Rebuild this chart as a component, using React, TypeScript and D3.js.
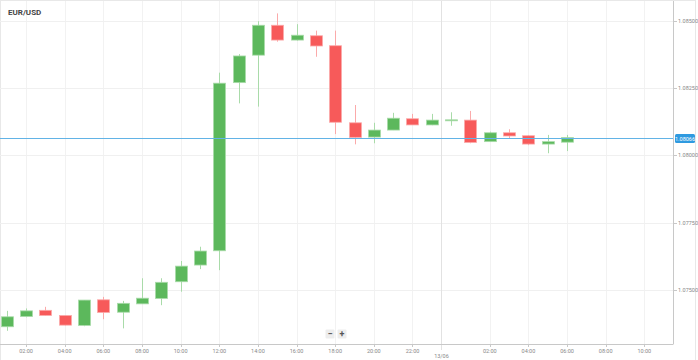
import React, { useRef, useEffect } from "react";
import * as d3 from "d3";

const chart_width = 698;
const chart_height = 360;
const plot = { left: 0, right: 673, top: 1, bottom: 344 };

// hourly candles, 12/06 01:00 -> 13/06 06:00
const hours = [
  "2023-06-12T01:00Z", "2023-06-12T02:00Z", "2023-06-12T03:00Z", "2023-06-12T04:00Z",
  "2023-06-12T05:00Z", "2023-06-12T06:00Z", "2023-06-12T07:00Z", "2023-06-12T08:00Z",
  "2023-06-12T09:00Z", "2023-06-12T10:00Z", "2023-06-12T11:00Z", "2023-06-12T12:00Z",
  "2023-06-12T13:00Z", "2023-06-12T14:00Z", "2023-06-12T15:00Z", "2023-06-12T16:00Z",
  "2023-06-12T17:00Z", "2023-06-12T18:00Z", "2023-06-12T19:00Z", "2023-06-12T20:00Z",
  "2023-06-12T21:00Z", "2023-06-12T22:00Z", "2023-06-12T23:00Z", "2023-06-13T00:00Z",
  "2023-06-13T01:00Z", "2023-06-13T02:00Z", "2023-06-13T03:00Z", "2023-06-13T04:00Z",
  "2023-06-13T05:00Z", "2023-06-13T06:00Z",
];
const opens = [
  1.07364, 1.07402, 1.07425, 1.07406, 1.07369, 1.07464, 1.07418, 1.07449, 1.07469, 1.07531,
  1.07593, 1.07646, 1.0827, 1.08372, 1.08483, 1.08428, 1.08444, 1.08407, 1.08121, 1.08068,
  1.08094, 1.08136, 1.08113, 1.08131, 1.08131, 1.08051, 1.08084, 1.08073, 1.08042, 1.08049,
];
const highs = [
  1.07423, 1.07432, 1.07438, 1.07406, 1.07463, 1.07475, 1.0746, 1.07544, 1.07544, 1.07608,
  1.07661, 1.08307, 1.08376, 1.08498, 1.08527, 1.08487, 1.08463, 1.08463, 1.08187, 1.08121,
  1.08158, 1.08154, 1.08154, 1.0816, 1.08165, 1.08088, 1.08097, 1.08075, 1.08076, 1.08076,
];
const lows = [
  1.07349, 1.07399, 1.07405, 1.07369, 1.07366, 1.07392, 1.07358, 1.07449, 1.07444, 1.07494,
  1.07578, 1.07574, 1.08193, 1.08181, 1.08422, 1.08426, 1.08366, 1.08079, 1.08041, 1.08045,
  1.08094, 1.08113, 1.08112, 1.0811, 1.08045, 1.08051, 1.08062, 1.08038, 1.08008, 1.08016,
];
const closes = [
  1.07401, 1.07423, 1.07406, 1.0737, 1.07463, 1.07417, 1.07451, 1.0747, 1.07529, 1.07589,
  1.07645, 1.08268, 1.08369, 1.08483, 1.08428, 1.08446, 1.08406, 1.08123, 1.08067, 1.08094,
  1.08138, 1.08113, 1.08131, 1.08132, 1.08048, 1.08084, 1.08072, 1.08042, 1.08051, 1.08066,
];

const priceTicks = [1.075, 1.0775, 1.08, 1.0825, 1.085];
const lastPrice = 1.08066;
const xDomain = ["2023-06-12T00:39Z", "2023-06-13T11:29Z"];
const yDomain = [1.073, 1.08573];
const dayBreak = "2023-06-12T23:29Z";
const dayLabel = "13/06";
const title = "EUR/USD";

const up = "#5cb85c";
const upLight = "#a9dba9";
const down = "#f75a5a";
const downLight = "#fbaaaa";
const font = "Roboto, Arial, sans-serif";

const App: React.FC = () => {
  const ref = useRef<SVGSVGElement>(null);

  useEffect(() => {
    if (!ref.current) return;
    const svg = d3.select(ref.current);
    svg.selectAll("*").remove();

    const x = d3
      .scaleUtc()
      .domain(xDomain.map((d) => new Date(d)))
      .range([plot.left, plot.right]);
    const y = d3.scaleLinear().domain(yDomain).range([plot.bottom, plot.top]);

    const data = hours.map((h, i) => ({
      t: new Date(h),
      o: opens[i],
      h: highs[i],
      l: lows[i],
      c: closes[i],
    }));

    // frame
    svg
      .append("rect")
      .attr("x", 0.5)
      .attr("y", 0.5)
      .attr("width", 695)
      .attr("height", chart_height)
      .attr("fill", "#fff")
      .attr("stroke", "#e8e8e8");

    // grid
    const timeTicks = x
      .ticks(d3.utcHour.every(2) as any)
      .filter((d) => d.getUTCHours() !== 0);
    svg
      .append("g")
      .selectAll("line")
      .data(timeTicks)
      .enter()
      .append("line")
      .attr("x1", (d) => Math.round(x(d)) + 0.5)
      .attr("x2", (d) => Math.round(x(d)) + 0.5)
      .attr("y1", plot.top)
      .attr("y2", plot.bottom)
      .attr("stroke", "#f2f2f2");
    svg
      .append("g")
      .selectAll("line")
      .data(priceTicks)
      .enter()
      .append("line")
      .attr("x1", plot.left)
      .attr("x2", plot.right)
      .attr("y1", (d) => Math.round(y(d)) + 0.5)
      .attr("y2", (d) => Math.round(y(d)) + 0.5)
      .attr("stroke", "#f0f0f0");

    const dbx = Math.round(x(new Date(dayBreak))) + 0.5;
    svg
      .append("line")
      .attr("x1", dbx)
      .attr("x2", dbx)
      .attr("y1", plot.top)
      .attr("y2", plot.bottom + 6)
      .attr("stroke", "#e2e2e2");

    // axes lines
    svg
      .append("line")
      .attr("x1", plot.left)
      .attr("x2", plot.right)
      .attr("y1", plot.bottom + 0.5)
      .attr("y2", plot.bottom + 0.5)
      .attr("stroke", "#c8c8c8");
    svg
      .append("line")
      .attr("x1", plot.right + 0.5)
      .attr("x2", plot.right + 0.5)
      .attr("y1", plot.top)
      .attr("y2", plot.bottom + 0.5)
      .attr("stroke", "#c8c8c8");

    // x ticks + labels
    const fmt = d3.utcFormat("%H:%M");
    const xt = svg.append("g");
    xt.selectAll("line")
      .data(timeTicks)
      .enter()
      .append("line")
      .attr("x1", (d) => Math.round(x(d)) + 0.5)
      .attr("x2", (d) => Math.round(x(d)) + 0.5)
      .attr("y1", plot.bottom)
      .attr("y2", plot.bottom + 3)
      .attr("stroke", "#c8c8c8");
    xt.selectAll("text")
      .data(timeTicks)
      .enter()
      .append("text")
      .attr("x", (d) => x(d))
      .attr("y", plot.bottom + 8.5)
      .attr("text-anchor", "middle")
      .attr("font-family", font)
      .attr("font-size", 5.5)
      .attr("fill", "#888")
      .text((d) => fmt(d));
    svg
      .append("text")
      .attr("x", dbx)
      .attr("y", plot.bottom + 14)
      .attr("text-anchor", "middle")
      .attr("font-family", font)
      .attr("font-size", 5.5)
      .attr("fill", "#888")
      .text(dayLabel);

    // y ticks + labels
    const yt = svg.append("g");
    yt.selectAll("line")
      .data(priceTicks)
      .enter()
      .append("line")
      .attr("x1", plot.right + 1)
      .attr("x2", plot.right + 4)
      .attr("y1", (d) => Math.round(y(d)) + 0.5)
      .attr("y2", (d) => Math.round(y(d)) + 0.5)
      .attr("stroke", "#c8c8c8");
    yt.selectAll("text")
      .data(priceTicks)
      .enter()
      .append("text")
      .attr("x", plot.right + 5)
      .attr("y", (d) => y(d) + 2)
      .attr("font-family", font)
      .attr("font-size", 5.5)
      .attr("fill", "#888")
      .text((d) => d3.format(".5f")(d));

    // candles
    const step = x(new Date(hours[1])) - x(new Date(hours[0]));
    const bw = Math.round(step * 0.62);
    const g = svg.append("g");
    g.selectAll("line")
      .data(data)
      .enter()
      .append("line")
      .attr("x1", (d) => Math.round(x(d.t)) + 0.5)
      .attr("x2", (d) => Math.round(x(d.t)) + 0.5)
      .attr("y1", (d) => y(d.h))
      .attr("y2", (d) => y(d.l))
      .attr("stroke", (d) => (d.c >= d.o ? upLight : downLight));
    g.selectAll("rect")
      .data(data)
      .enter()
      .append("rect")
      .attr("x", (d) => Math.round(x(d.t)) - bw / 2 + 0.5)
      .attr("y", (d) => y(Math.max(d.o, d.c)))
      .attr("width", bw)
      .attr("height", (d) => Math.max(1, Math.abs(y(d.o) - y(d.c))))
      .attr("fill", (d) => (d.c >= d.o ? up : down))
      .attr("stroke", (d) => (d.c >= d.o ? upLight : downLight))
      .attr("stroke-width", 0.8);

    // last price line + badge
    const ly = Math.round(y(lastPrice)) + 0.5;
    svg
      .append("line")
      .attr("x1", plot.left)
      .attr("x2", plot.right)
      .attr("y1", ly)
      .attr("y2", ly)
      .attr("stroke", "#62b3e6");
    svg
      .append("rect")
      .attr("x", plot.right + 2)
      .attr("y", ly - 4.5)
      .attr("width", 20)
      .attr("height", 9)
      .attr("rx", 1.5)
      .attr("fill", "#2f9ae0");
    svg
      .append("text")
      .attr("x", plot.right + 12)
      .attr("y", ly + 2)
      .attr("text-anchor", "middle")
      .attr("font-family", font)
      .attr("font-size", 5.5)
      .attr("fill", "#fff")
      .text(d3.format(".5f")(lastPrice));

    // title
    svg
      .append("text")
      .attr("x", 8)
      .attr("y", 15)
      .attr("font-family", font)
      .attr("font-size", 8)
      .attr("font-weight", "bold")
      .attr("fill", "#444")
      .text(title);

    // zoom buttons
    const zb = svg.append("g");
    ["\u2212", "+"].forEach((s, i) => {
      const cx = 330 + i * 12;
      zb.append("rect")
        .attr("x", cx - 4.5)
        .attr("y", 329.5)
        .attr("width", 9)
        .attr("height", 9)
        .attr("rx", 1)
        .attr("fill", "#ededed");
      zb.append("text")
        .attr("x", cx)
        .attr("y", 336.5)
        .attr("text-anchor", "middle")
        .attr("font-family", font)
        .attr("font-size", 9)
        .attr("font-weight", "bold")
        .attr("fill", "#555")
        .text(s);
    });
  }, []);

  return (
    <svg
      ref={ref}
      width={chart_width}
      height={chart_height}
      style={{ position: "fixed", left: 0, top: 0, background: "#fff" }}
    />
  );
};

export default App;
